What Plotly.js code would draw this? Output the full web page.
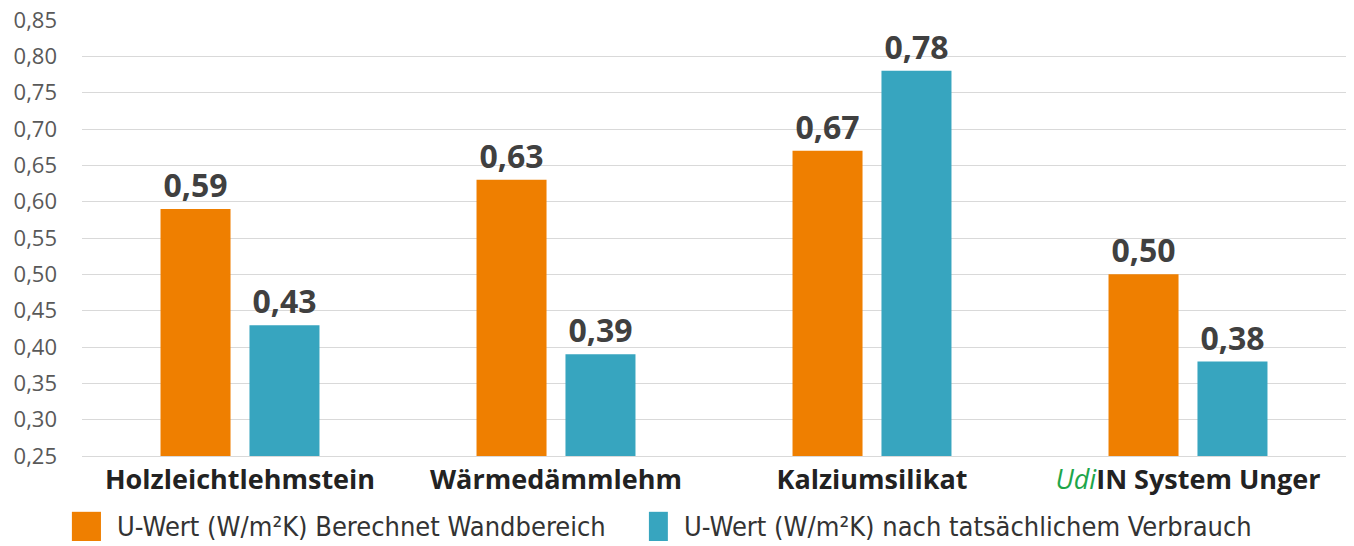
<!DOCTYPE html>
<html><head><meta charset="utf-8">
<script src="https://cdn.plot.ly/plotly-3.0.1.min.js"></script>
<style>html,body{margin:0;padding:0;background:#fff}#chart{width:1354px;height:546px}</style>
</head><body><div id="chart"></div>
<script>
const categories = ["Holzleichtlehmstein", "Wärmedämmlehm", "Kalziumsilikat", "UdiIN System Unger"];
const tickLabels = ["<b>Holzleichtlehmstein</b>", "<b>Wärmedämmlehm</b>", "<b>Kalziumsilikat</b>", "<span style=\"color:#1EA64A\"><i>Udi</i></span><b>IN System Unger</b>"];
const seriesNames = ["U-Wert (W/m²K) Berechnet Wandbereich", "U-Wert (W/m²K) nach tatsächlichem Verbrauch"];
const berechnet = [0.59, 0.63, 0.67, 0.50];
const verbrauch = [0.43, 0.39, 0.78, 0.38];
const colors = ["#EF7F00", "#37A5BF"];

const sans = "'Open Sans', sans-serif";
const cond = "'DejaVu Sans Condensed', 'Open Sans', sans-serif";
const common = {
  type: "bar", x: categories, texttemplate: "%{y:.2f}", textposition: "outside",
  textfont: {family: sans, size: 32, color: "#404040", weight: 700},
  cliponaxis: false, showlegend: false, hoverinfo: "y"
};
const data = [
  Object.assign({}, common, {name: seriesNames[0], y: berechnet, marker: {color: colors[0]}}),
  Object.assign({}, common, {name: seriesNames[1], y: verbrauch, marker: {color: colors[1]}})
];

const layout = {
  width: 1354, height: 546,
  margin: {l: 82, r: 8, t: 20, b: 90},
  separators: ",.",
  barmode: "group", bargap: 0.437, bargroupgap: 0.213,
  paper_bgcolor: "#fff", plot_bgcolor: "#fff",
  xaxis: {
    tickmode: "array", tickvals: categories, ticktext: tickLabels,
    tickfont: {family: sans, size: 27, color: "#222"},
    showline: true, linecolor: "#d9d9d9", linewidth: 1, ticks: "", showgrid: false
  },
  yaxis: {
    range: [0.25, 0.85], dtick: 0.05, tick0: 0.25, tickformat: ".2f",
    tickfont: {family: sans, size: 22, color: "#595959"}, ticklabelstandoff: 24,
    gridcolor: "#d9d9d9", gridwidth: 1, zeroline: false, ticks: "", ticklen: 0,
    showline: false, automargin: false
  },
  shapes: [
    {type: "rect", xref: "paper", yref: "paper", x0: -0.008, x1: 0.0150, y0: -0.128, y1: -0.195, fillcolor: colors[0], line: {width: 0}},
    {type: "rect", xref: "paper", yref: "paper", x0: 0.4485, x1: 0.4635, y0: -0.128, y1: -0.195, fillcolor: colors[1], line: {width: 0}}
  ],
  annotations: [
    {xref: "paper", yref: "paper", x: 0.026, y: -0.161, xanchor: "left", yanchor: "middle", showarrow: false, text: seriesNames[0], font: {family: cond, size: 27, color: "#333"}},
    {xref: "paper", yref: "paper", x: 0.475, y: -0.161, xanchor: "left", yanchor: "middle", showarrow: false, text: seriesNames[1], font: {family: cond, size: 27, color: "#333"}}
  ]
};
Plotly.newPlot("chart", data, layout, {displayModeBar: false, staticPlot: true});
</script></body></html>
